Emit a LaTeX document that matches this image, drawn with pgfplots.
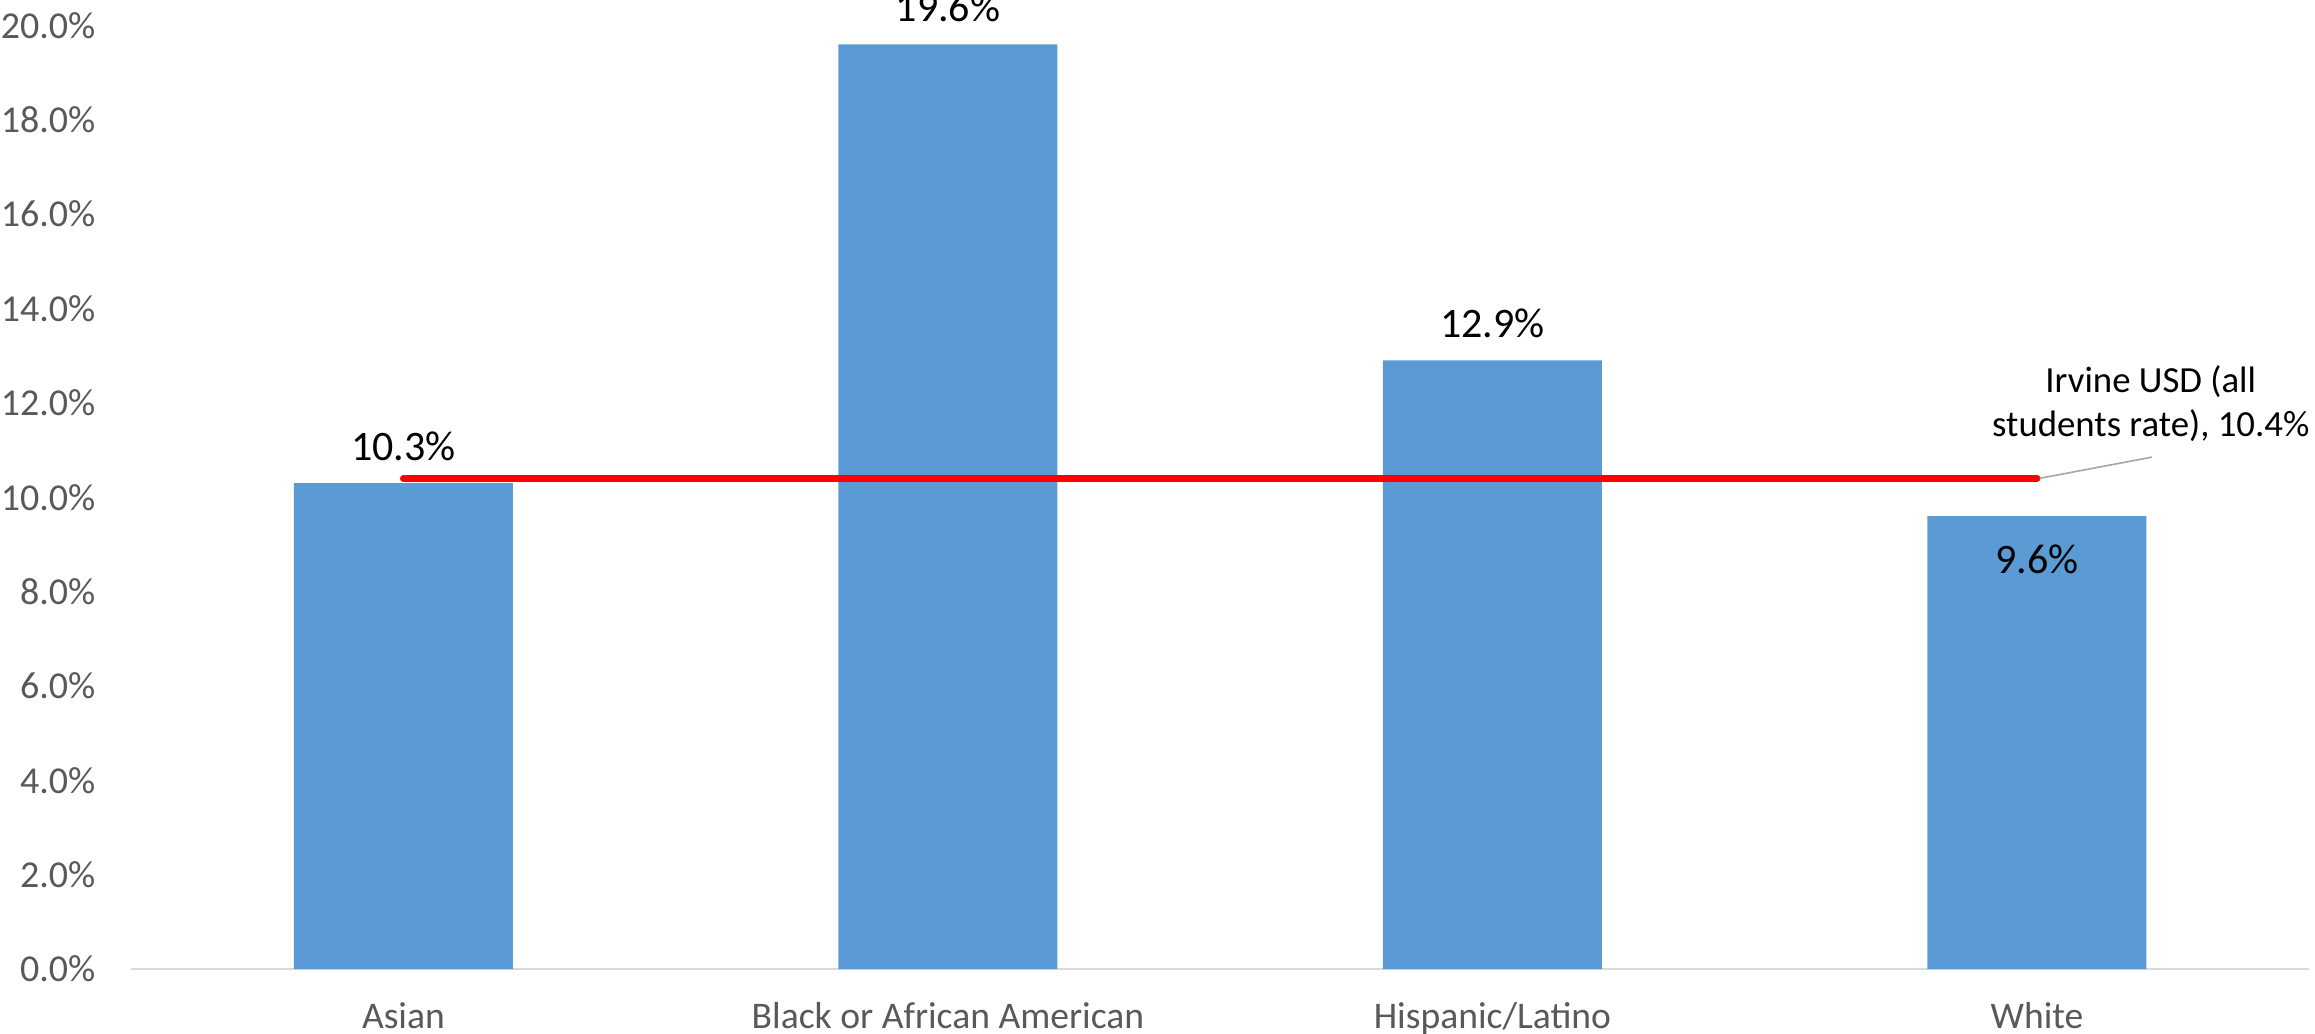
\documentclass[border=0pt]{standalone}
\usepackage{fontspec}
\setmainfont{Carlito}
\usepackage{pgfplots}
\pgfplotsset{compat=1.18}

\definecolor{barblue}{HTML}{5B9BD5}
\definecolor{ticktext}{HTML}{595959}
\definecolor{axisgray}{HTML}{D9D9D9}
\definecolor{leader}{HTML}{A6A6A6}

\begin{document}
\begin{tikzpicture}
\begin{axis}[
    scale only axis,
    width=544.5pt,
    height=235.9pt,
    xmin=-0.5, xmax=3.5,
    ymin=0, ymax=20,
    clip=false,
    axis lines*=left,
    y axis line style={draw=none},
    x axis line style={draw=axisgray, line width=0.6pt},
    major tick length=0pt,
    xtick={0,1,2,3},
    xticklabels={Asian, Black or African American, Hispanic/Latino, White},
    xticklabel style={font=\fontsize{9.4}{11}\selectfont, text=ticktext, anchor=base, inner sep=0pt, yshift=-14.75pt},
    ytick={0,2,...,20},
    yticklabel={\pgfmathprintnumber[fixed,zerofill,precision=1]{\tick}\%},
    yticklabel style={font=\fontsize{9.5}{11}\selectfont, text=ticktext, anchor=east, inner sep=0pt, xshift=-8.75pt},
    /pgf/number format/assume math mode=true,
    nodes near coords={\pgfmathprintnumber[fixed,zerofill,precision=1]{\pgfplotspointmeta}\%},
    nodes near coords style={font=\fontsize{10.5}{12}\selectfont, text=black, anchor=base, inner sep=0pt},
]
% bars
\addplot[ybar, bar width=54.75pt, bar shift=0pt, fill=barblue, draw=none, nodes near coords={}]
    coordinates {(0,10.3) (1,19.6) (2,12.9) (3,9.6)};
% labels above the bars
\addplot[only marks, mark=none, nodes near coords style={yshift=5.75pt}]
    coordinates {(0,10.3) (1,19.6) (2,12.9)};
% label inside the last bar
\addplot[only marks, mark=none, nodes near coords style={yshift=-14.25pt}]
    coordinates {(3,9.6)};
% district rate
\addplot[red, line width=1.75pt, line cap=round, mark=none, nodes near coords={}]
    coordinates {(0,10.4) (3,10.4)};
\draw[leader, line width=0.4pt] (axis cs:3.005,10.4) -- (axis cs:3.211,10.85);
\node[font=\fontsize{9.2}{11}\selectfont, anchor=base, inner sep=0pt] at (axis cs:3.209,12.23) {Irvine USD (all};
\node[font=\fontsize{9.2}{11}\selectfont, anchor=base, inner sep=0pt] at (axis cs:3.209,11.28) {students rate), 10.4\%};
\end{axis}
\pgfresetboundingbox
\path[use as bounding box] (-32.8pt,-16pt) rectangle (545.94pt,242.25pt);
\end{tikzpicture}
\end{document}
